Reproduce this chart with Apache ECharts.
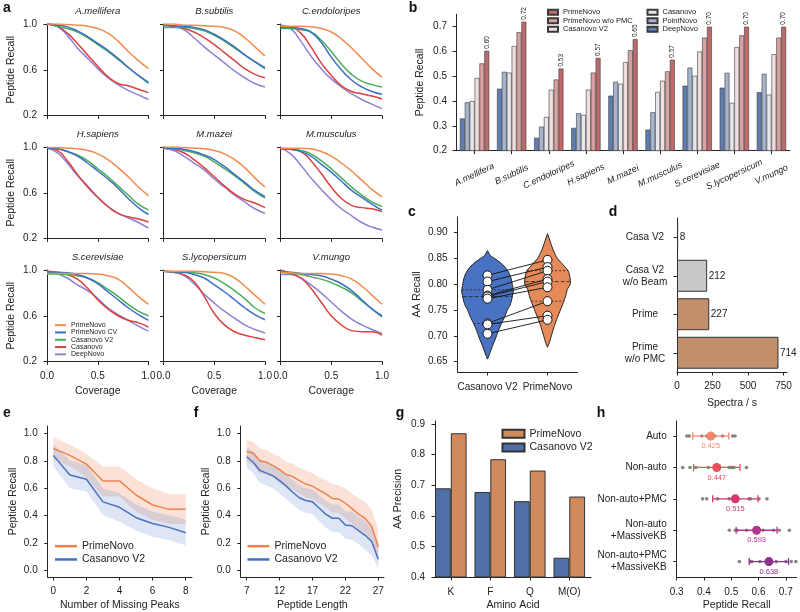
<!DOCTYPE html>
<html><head><meta charset="utf-8">
<script src="https://cdn.jsdelivr.net/npm/echarts@6/dist/echarts.min.js"></script>
<style>html,body{margin:0;padding:0;background:#fff}#c{width:800px;height:612px}</style>
</head><body><div id="c"></div>
<script>
// ================= DATA =================
// Panel a
const coverage = [0, 0.1, 0.2, 0.3, 0.4, 0.5, 0.6, 0.7, 0.8, 0.9, 1.0];
const species = ['A.mellifera','B.subtilis','C.endoloripes','H.sapiens','M.mazei','M.musculus','S.cerevisiae','S.lycopersicum','V.mungo'];
const methodsA = ['PrimeNovo','PrimeNovo CV','Casanovo V2','Casanovo','DeepNovo'];
const covPrimeNovo = [
  [1.0,1.0,0.995,0.99,0.98,0.96,0.92,0.85,0.76,0.68,0.61],
  [1.0,1.0,0.99,0.99,0.985,0.98,0.97,0.94,0.88,0.80,0.72],
  [0.98,0.98,0.98,0.975,0.96,0.93,0.87,0.79,0.70,0.61,0.535],
  [0.995,0.995,0.99,0.985,0.97,0.94,0.89,0.82,0.74,0.65,0.575],
  [1.0,1.0,0.995,0.99,0.985,0.97,0.94,0.89,0.82,0.73,0.65],
  [0.99,0.99,0.99,0.985,0.96,0.92,0.86,0.79,0.71,0.63,0.565],
  [0.97,0.97,0.97,0.97,0.97,0.965,0.95,0.92,0.85,0.77,0.70],
  [0.99,0.99,0.99,0.99,0.985,0.98,0.97,0.93,0.86,0.78,0.70],
  [0.98,0.975,0.97,0.97,0.97,0.965,0.95,0.92,0.86,0.78,0.70]];
const covPrimeNovoCV = [
  [1.0,0.99,0.975,0.94,0.89,0.83,0.77,0.70,0.62,0.55,0.49],
  [0.99,0.985,0.98,0.97,0.95,0.91,0.86,0.80,0.73,0.67,0.61],
  [0.97,0.97,0.96,0.93,0.84,0.71,0.60,0.51,0.45,0.41,0.385],
  [0.99,0.985,0.96,0.92,0.86,0.79,0.72,0.64,0.55,0.47,0.41],
  [0.99,0.99,0.98,0.96,0.93,0.89,0.83,0.76,0.69,0.62,0.565],
  [0.985,0.98,0.96,0.92,0.85,0.78,0.70,0.62,0.56,0.50,0.445],
  [0.98,0.98,0.975,0.96,0.93,0.88,0.81,0.74,0.67,0.61,0.56],
  [0.99,0.985,0.98,0.96,0.93,0.87,0.81,0.74,0.67,0.61,0.565],
  [0.99,0.98,0.97,0.96,0.95,0.92,0.88,0.82,0.74,0.66,0.60]];
const covCasanovoV2 = [
  [1.0,0.98,0.96,0.93,0.88,0.82,0.76,0.69,0.62,0.55,0.48],
  [0.97,0.97,0.97,0.96,0.94,0.90,0.85,0.79,0.73,0.67,0.62],
  [0.96,0.96,0.95,0.93,0.86,0.76,0.65,0.56,0.50,0.47,0.45],
  [0.99,0.985,0.96,0.93,0.88,0.81,0.74,0.66,0.58,0.50,0.45],
  [0.99,0.985,0.97,0.95,0.92,0.87,0.81,0.75,0.68,0.61,0.555],
  [0.985,0.98,0.97,0.94,0.88,0.81,0.73,0.65,0.58,0.52,0.48],
  [0.965,0.965,0.96,0.95,0.93,0.89,0.83,0.77,0.70,0.64,0.60],
  [0.99,0.985,0.98,0.975,0.96,0.93,0.88,0.82,0.75,0.67,0.62],
  [0.98,0.97,0.96,0.94,0.92,0.89,0.85,0.80,0.73,0.66,0.59]];
const covCasanovo = [
  [1.0,0.98,0.92,0.83,0.73,0.63,0.54,0.48,0.46,0.43,0.40],
  [0.99,0.98,0.96,0.93,0.88,0.82,0.75,0.68,0.61,0.56,0.53],
  [0.98,0.97,0.92,0.80,0.66,0.55,0.46,0.41,0.39,0.37,0.345],
  [0.99,0.97,0.88,0.76,0.65,0.56,0.48,0.42,0.39,0.37,0.345],
  [0.99,0.98,0.95,0.89,0.82,0.74,0.66,0.59,0.54,0.51,0.47],
  [0.99,0.98,0.96,0.88,0.77,0.65,0.55,0.49,0.47,0.46,0.435],
  [0.99,0.98,0.96,0.92,0.84,0.74,0.66,0.60,0.56,0.54,0.50],
  [0.99,0.98,0.96,0.90,0.77,0.62,0.52,0.46,0.43,0.41,0.39],
  [1.0,0.97,0.93,0.84,0.72,0.60,0.52,0.47,0.46,0.46,0.43]];
const covDeepNovo = [
  [1.0,0.98,0.90,0.79,0.70,0.61,0.53,0.47,0.42,0.38,0.34],
  [0.99,0.98,0.95,0.88,0.80,0.73,0.66,0.59,0.53,0.48,0.45],
  [0.99,0.96,0.85,0.72,0.61,0.52,0.45,0.39,0.34,0.30,0.26],
  [0.99,0.95,0.86,0.75,0.66,0.56,0.48,0.42,0.38,0.34,0.29],
  [0.99,0.97,0.92,0.86,0.80,0.72,0.65,0.58,0.52,0.46,0.42],
  [0.99,0.94,0.84,0.73,0.63,0.54,0.46,0.40,0.34,0.30,0.275],
  [0.99,0.97,0.93,0.87,0.82,0.75,0.67,0.61,0.56,0.51,0.465],
  [0.99,0.98,0.95,0.88,0.79,0.71,0.64,0.58,0.52,0.48,0.45],
  [0.96,0.96,0.93,0.87,0.80,0.72,0.64,0.57,0.52,0.48,0.445]];

// Panel b
const methodsB = ['DeepNovo','PointNovo','Casanovo','Casanovo V2','PrimeNovo w/o PMC','PrimeNovo'];
const bDeepNovo    = [0.330,0.450,0.252,0.292,0.422,0.285,0.462,0.454,0.436];
const bPointNovo   = [0.395,0.518,0.297,0.351,0.478,0.355,0.535,0.514,0.510];
const bCasanovo    = [0.400,0.515,0.336,0.345,0.470,0.437,0.502,0.393,0.426];
const bCasanovoV2  = [0.493,0.622,0.446,0.446,0.557,0.482,0.600,0.618,0.589];
const bPrimeNoPMC  = [0.552,0.678,0.487,0.515,0.605,0.520,0.656,0.665,0.656];
const bPrimeNovo   = [0.603,0.720,0.531,0.574,0.650,0.567,0.700,0.700,0.700];
const bTicks = [0.2,0.3,0.4,0.5,0.6,0.7];

// Panel c
const cCategories = ['Casanovo V2','PrimeNovo'];
const cCasanovoV2 = [0.817,0.805,0.789,0.778,0.776,0.772,0.724,0.722,0.704];
const cPrimeNovo  = [0.847,0.833,0.826,0.810,0.805,0.794,0.767,0.739,0.731];
const cViolinCasY = [0.865,0.855,0.85,0.84,0.83,0.82,0.81,0.80,0.787,0.775,0.76,0.75,0.735,0.724,0.71,0.70,0.68,0.665,0.655];
const cViolinCasW = [0,0.12,0.27,0.54,0.73,0.85,0.92,0.96,1,0.96,0.88,0.77,0.65,0.54,0.42,0.35,0.19,0.08,0];
const cViolinPrimeY = [0.898,0.88,0.865,0.85,0.835,0.825,0.81,0.80,0.79,0.775,0.765,0.75,0.735,0.72,0.70,0.685,0.678];
const cViolinPrimeW = [0,0.12,0.23,0.38,0.65,0.81,0.88,0.88,0.77,0.69,0.62,0.50,0.38,0.27,0.15,0.06,0];
const cTicks = [0.65,0.70,0.75,0.80,0.85,0.90];

// Panel d
const dCategories = ['Casa V2','Casa V2\nw/o Beam','Prime','Prime\nw/o PMC'];
const dSpeed = [8,212,227,714];
const dTicks = [0,250,500,750];

// Panel e
const eMissing = [0,1,2,3,4,5,6,7,8];
const ePrime   = [0.89,0.84,0.776,0.653,0.653,0.55,0.477,0.445,0.445];
const ePrimeHi = [0.97,0.92,0.85,0.758,0.758,0.665,0.60,0.555,0.555];
const ePrimeLo = [0.81,0.76,0.68,0.54,0.54,0.428,0.367,0.338,0.338];
const eCas     = [0.84,0.697,0.665,0.50,0.46,0.384,0.342,0.313,0.274];
const eCasHi   = [0.92,0.80,0.77,0.60,0.563,0.48,0.43,0.40,0.37];
const eCasLo   = [0.758,0.60,0.575,0.404,0.355,0.289,0.245,0.22,0.18];
const eTicks = [0,2,4,6,8];
const recallTicks = [0,0.2,0.4,0.6,0.8,1.0];

// Panel f
const fLength  = [7,8,9,10,11,12,13,14,15,16,17,18,19,20,21,22,23,24,25,26,27];
const fPrime   = [0.87,0.855,0.80,0.79,0.765,0.735,0.70,0.685,0.655,0.63,0.615,0.585,0.56,0.525,0.52,0.49,0.45,0.41,0.38,0.32,0.17];
const fPrimeHi = [0.95,0.94,0.89,0.88,0.85,0.83,0.79,0.78,0.75,0.73,0.71,0.68,0.66,0.63,0.62,0.60,0.56,0.53,0.50,0.44,0.30];
const fPrimeLo = [0.79,0.77,0.71,0.70,0.68,0.64,0.61,0.59,0.56,0.53,0.52,0.49,0.46,0.42,0.42,0.38,0.34,0.30,0.27,0.21,0.06];
const fCas     = [0.83,0.79,0.73,0.71,0.69,0.655,0.615,0.57,0.53,0.51,0.50,0.455,0.41,0.38,0.38,0.33,0.325,0.29,0.255,0.21,0.08];
const fCasHi   = [0.90,0.87,0.81,0.79,0.77,0.74,0.70,0.66,0.62,0.60,0.59,0.55,0.51,0.48,0.48,0.43,0.43,0.39,0.36,0.31,0.16];
const fCasLo   = [0.75,0.71,0.64,0.62,0.60,0.56,0.52,0.48,0.44,0.42,0.41,0.36,0.31,0.28,0.28,0.23,0.22,0.19,0.15,0.11,0.01];
const fTicks = [7,12,17,22,27];

// Panel g
const gCategories = ['K','F','Q','M(O)'];
const gPrimeNovo  = [0.870,0.785,0.748,0.663];
const gCasanovoV2 = [0.690,0.678,0.648,0.463];
const gTicks = [0.4,0.5,0.6,0.7,0.8,0.9];

// Panel h
const hLabels = ['Auto','Non-auto','Non-auto+PMC','Non-auto\n+MassiveKB','Non-auto+PMC\n+MassiveKB'];
const hMeans = [0.425,0.447,0.515,0.593,0.638];
const hStd   = [0.066,0.085,0.083,0.075,0.072];
const hAuto          = [0.337,0.346,0.392,0.410,0.428,0.440,0.468,0.505,0.514];
const hNonAuto       = [0.322,0.349,0.370,0.416,0.492,0.499,0.505,0.510,0.556];
const hNonAutoPMC    = [0.395,0.410,0.450,0.492,0.520,0.565,0.570,0.602,0.631];
const hNonAutoKB     = [0.493,0.515,0.522,0.556,0.590,0.617,0.655,0.676,0.713];
const hNonAutoPMCKB  = [0.530,0.570,0.575,0.605,0.640,0.665,0.700,0.720,0.737];
const hTicks = [0.3,0.4,0.5,0.6,0.7];

// ================= STYLE =================
const FONT = 'Liberation Sans';
const AX = '#262626', TXT = '#222';
const colA = ['#f28b4c','#3d6fc6','#47ad58','#d9423f','#9180d4'];
const colB = ['#5f7db0','#a7b4cf','#e8e8ec','#f3dede','#d9a1a1','#bf6a6a'];
const colE = ['#ec8450','#4a70c0'];
const bandE = ['rgba(240,140,95,0.26)','rgba(90,130,210,0.20)'];
const colG = ['#d08a5e','#4f6fa6'];
const colH = ['#f3876a','#e9505a','#d23a6a','#b2378a','#8f2f8f'];

function M(a,b){const o=Object.assign({},a);for(const k in b){if(b[k]&&typeof b[k]==='object'&&!Array.isArray(b[k])&&o[k]&&typeof o[k]==='object'&&!Array.isArray(o[k]))o[k]=Object.assign({},o[k],b[k]);else o[k]=b[k];}return o;}
const baseAx = {
  axisLine:{show:true,onZero:false,lineStyle:{color:AX,width:1}},
  axisTick:{show:true,length:3.5,inside:false,lineStyle:{color:AX,width:1}},
  axisLabel:{color:TXT,fontSize:10,fontFamily:FONT,margin:10},
  splitLine:{show:false},
  nameLocation:'middle',
  nameTextStyle:{color:TXT,fontSize:10.5,fontFamily:FONT}
};
const axis = o => M(baseAx,o);
const lf = n => n.split('|')[1];

const grids=[], xAxes=[], yAxes=[], series=[], graphics=[], legends=[];

// ---------- Panel a ----------
const aLeft=[47,163.5,280.5], aTop=[24,147,270], aW=101.5, aH=91.5;
const aCurves=[covPrimeNovo,covPrimeNovoCV,covCasanovoV2,covCasanovo,covDeepNovo];
species.forEach((sp,i)=>{
  const r=Math.floor(i/3), c=i%3;
  grids.push({left:aLeft[c],top:aTop[r],width:aW,height:aH,outerBoundsMode:'none'});
  xAxes.push(axis({type:'value',gridIndex:i,min:0,max:1,
    axisLabel:{show:r===2,customValues:[0,0.5,1],formatter:v=>v.toFixed(1)},
    axisTick:{customValues:[0,0.5,1]},
    name:r===2?'Coverage':'',nameGap:24.5}));
  yAxes.push(axis({type:'value',gridIndex:i,min:0.2,max:1,
    axisLabel:{show:c===0,customValues:[0.2,0.6,1.0],formatter:v=>v.toFixed(1)},
    axisTick:{customValues:[0.2,0.6,1.0]},
    name:c===0?'Peptide Recall':'',nameGap:30}));
  graphics.push({type:'text',x:aLeft[c]+aW/2,y:aTop[r]-12.5,
    style:{text:sp,fill:TXT,font:'italic 9.5px '+FONT,align:'center',textAlign:'center',verticalAlign:'middle',textVerticalAlign:'middle'}});
  for(let m=methodsA.length-1;m>=0;m--){
    series.push({type:'line',name:'a|'+methodsA[m],xAxisIndex:i,yAxisIndex:i,
      data:coverage.map((x,k)=>[x,aCurves[m][i][k]]),smooth:0.5,
      symbol:'none',lineStyle:{width:1.5,color:colA[m]},itemStyle:{color:colA[m]},z:3+(5-m)});
  }
});
legends.push({data:methodsA.map(m=>'a|'+m),formatter:lf,orient:'vertical',left:55,top:321.5,padding:0,
  itemGap:0,itemWidth:11,itemHeight:2,icon:'rect',textStyle:{fontSize:7,lineHeight:7.3,color:TXT,fontFamily:FONT}});

// ---------- Panel b (index 9) ----------
grids.push({left:456,top:14.3,width:334,height:136.4,outerBoundsMode:'none'});
xAxes.push(axis({type:'category',gridIndex:9,data:species,
  axisTick:{alignWithLabel:true},
  axisLabel:{interval:0,rotate:25,fontStyle:'italic',fontSize:9,align:'center',verticalAlign:'middle',margin:24}}));
yAxes.push(axis({type:'value',gridIndex:9,min:0.2,max:0.75,
  axisLabel:{customValues:bTicks,formatter:v=>v.toFixed(1),margin:9},axisTick:{customValues:bTicks},
  name:'Peptide Recall',nameGap:30}));
const bData=[bDeepNovo,bPointNovo,bCasanovo,bCasanovoV2,bPrimeNoPMC,bPrimeNovo];
methodsB.forEach((m,k)=>{
  const s={type:'bar',name:'b|'+m,xAxisIndex:9,yAxisIndex:9,data:bData[k],barGap:'0%',barCategoryGap:'21%',
    itemStyle:{color:colB[k],borderColor:'#3a3a3a',borderWidth:0.6}};
  if(m==='PrimeNovo'){
    s.label={show:true,position:'top',rotate:90,align:'left',verticalAlign:'middle',distance:2,
      fontSize:6.5,color:TXT,fontFamily:FONT,formatter:p=>p.value.toFixed(2)};
  }
  series.push(s);
});
const bLegTxt={fontSize:7.5,lineHeight:8.5,color:TXT,fontFamily:FONT};
legends.push({data:['b|PrimeNovo','b|PrimeNovo w/o PMC','b|Casanovo V2'],formatter:lf,orient:'vertical',left:547,top:8,padding:0,itemGap:0,itemWidth:10,itemHeight:5,icon:'rect',textStyle:bLegTxt});
legends.push({data:['b|Casanovo','b|PointNovo','b|DeepNovo'],formatter:lf,orient:'vertical',left:646.5,top:8,padding:0,itemGap:0,itemWidth:10,itemHeight:5,icon:'rect',textStyle:bLegTxt});

// ---------- Panel c (index 10) ----------
grids.push({left:457.5,top:217,width:120,height:155,outerBoundsMode:'none'});
xAxes.push(axis({type:'category',gridIndex:10,data:cCategories,axisTick:{alignWithLabel:true},axisLabel:{interval:0,margin:10,hideOverlap:false}}));
yAxes.push(axis({type:'value',gridIndex:10,min:0.63,max:0.93,
  axisLabel:{customValues:cTicks,formatter:v=>v.toFixed(2)},axisTick:{customValues:cTicks},
  name:'AA Recall',nameGap:35}));
function quantile(arr,q){const s=arr.slice().sort((a,b)=>a-b);const pos=(s.length-1)*q;const lo=Math.floor(pos);return lo+1<s.length?s[lo]+(s[lo+1]-s[lo])*(pos-lo):s[lo];}
function widthAt(ys,ws,v){for(let k=0;k<ys.length-1;k++){if(v<=ys[k]&&v>=ys[k+1]){const t=(ys[k]-v)/(ys[k]-ys[k+1]);return ws[k]+(ws[k+1]-ws[k])*t;}}return 0;}
const violinHalf=0.43;
const violins=[{ys:cViolinCasY,ws:cViolinCasW,pts:cCasanovoV2,col:'#4a72c2'},{ys:cViolinPrimeY,ws:cViolinPrimeW,pts:cPrimeNovo,col:'#e58a58'}];
violins.forEach((v,ci)=>{
  series.push({type:'custom',xAxisIndex:10,yAxisIndex:10,z:1,data:[[ci,v.ys[0]]],
    renderItem:(params,api)=>{
      const half=api.size([1,0])[0]*violinHalf;
      const L=[],R=[];
      v.ys.forEach((y,k)=>{const p=api.coord([ci,y]);L.push([p[0]-v.ws[k]*half,p[1]]);R.push([p[0]+v.ws[k]*half,p[1]]);});
      const pts=L.concat(R.reverse());
      const children=[{type:'polygon',shape:{points:pts,smooth:0.2},style:{fill:v.col,stroke:'#222',lineWidth:1}}];
      [0.25,0.5,0.75].forEach(q=>{
        const val=quantile(v.pts,q);const w=widthAt(v.ys,v.ws,val)*half;const p=api.coord([ci,val]);
        children.push({type:'line',shape:{x1:p[0]-w,y1:p[1],x2:p[0]+w,y2:p[1]},style:{stroke:'#222',lineWidth:0.8,lineDash:q===0.5?[4,2]:[2,2]}});
      });
      return {type:'group',children};
    }});
});
series.push({type:'custom',xAxisIndex:10,yAxisIndex:10,z:4,data:cCasanovoV2.map((a,i)=>[a,cPrimeNovo[i]]),
  renderItem:(params,api)=>{const p1=api.coord([0,api.value(0)]),p2=api.coord([1,api.value(1)]);
    return {type:'line',shape:{x1:p1[0],y1:p1[1],x2:p2[0],y2:p2[1]},style:{stroke:'#111',lineWidth:0.9}};}});
[cCasanovoV2,cPrimeNovo].forEach((arr,ci)=>{
  series.push({type:'scatter',xAxisIndex:10,yAxisIndex:10,z:6,symbolSize:9,data:arr.map(v=>[ci,v]),
    itemStyle:{color:'#fff',borderColor:'#111',borderWidth:1,opacity:1}});
});

// ---------- Panel d (index 11) ----------
grids.push({left:677,top:218,width:110,height:154,outerBoundsMode:'none'});
xAxes.push(axis({type:'value',gridIndex:11,min:0,max:774,
  axisLabel:{customValues:dTicks,margin:9},axisTick:{customValues:dTicks},name:'Spectra / s',nameGap:25.5}));
yAxes.push(axis({type:'category',gridIndex:11,data:dCategories,inverse:true,axisTick:{alignWithLabel:true},
  axisLabel:{interval:0,align:'center',margin:32,lineHeight:12}}));
const dColors=['#c8c8c8','#c8c8c8','#c28e6c','#c28e6c'];
series.push({type:'bar',xAxisIndex:11,yAxisIndex:11,barCategoryGap:'17%',
  data:dSpeed.map((v,i)=>({value:v,itemStyle:{color:dColors[i]}})),
  itemStyle:{borderColor:'#333',borderWidth:1},
  label:{show:true,position:'right',distance:1.5,fontSize:10,color:TXT,fontFamily:FONT}});

// ---------- Panels e, f (index 12, 13) ----------
function bandPanel(idx,left,width,xmin,xmax,xs,ticks,xname,lines,his,los,names,legLeft){
  grids.push({left:left,top:426,width:width,height:151,outerBoundsMode:'none'});
  xAxes.push(axis({type:'value',gridIndex:idx,min:xmin,max:xmax,
    axisLabel:{customValues:ticks,margin:9.5},axisTick:{customValues:ticks},name:xname,nameGap:23}));
  yAxes.push(axis({type:'value',gridIndex:idx,min:-0.05,max:1.055,
    axisLabel:{customValues:recallTicks,formatter:v=>v.toFixed(1)},axisTick:{customValues:recallTicks},
    name:'Peptide Recall',nameGap:29.5}));
  [0,1].forEach(k=>{
    series.push({type:'custom',xAxisIndex:idx,yAxisIndex:idx,z:1,data:[[xs[0],his[k][0]]],
      renderItem:(params,api)=>{
        const up=xs.map((x,j)=>api.coord([x,his[k][j]]));
        const dn=xs.map((x,j)=>api.coord([x,los[k][j]])).reverse();
        return {type:'polygon',shape:{points:up.concat(dn)},style:{fill:bandE[k]}};
      }});
  });
  [0,1].forEach(k=>{
    series.push({type:'line',name:names[k],xAxisIndex:idx,yAxisIndex:idx,z:3,symbol:'none',
      data:xs.map((x,j)=>[x,lines[k][j]]),lineStyle:{width:1.5,color:colE[k]},itemStyle:{color:colE[k]}});
  });
  legends.push({data:names,formatter:lf,orient:'vertical',left:legLeft,top:539.5,padding:0,itemGap:0,
    itemWidth:22,itemHeight:2.5,icon:'rect',textStyle:{fontSize:10.5,lineHeight:13.3,color:TXT,fontFamily:FONT}});
}
bandPanel(12,47.7,144.3,-0.34,8.38,eMissing,eTicks,'Number of Missing Peaks',[ePrime,eCas],[ePrimeHi,eCasHi],[ePrimeLo,eCasLo],['e|PrimeNovo','e|Casanovo V2'],55);
bandPanel(13,240.7,143.3,6.09,27.87,fLength,fTicks,'Peptide Length',[fPrime,fCas],[fPrimeHi,fCasHi],[fPrimeLo,fCasLo],['f|PrimeNovo','f|Casanovo V2'],247.5);

// ---------- Panel g (index 14) ----------
const gIdx=[0,1,2,3];
grids.push({left:435,top:421,width:156,height:156,outerBoundsMode:'none'});
xAxes.push(axis({type:'value',gridIndex:14,min:-0.4,max:3.55,
  axisLabel:{customValues:gIdx,formatter:v=>gCategories[Math.round(v)]},axisTick:{customValues:gIdx},name:'Amino Acid',nameGap:23}));
yAxes.push(axis({type:'value',gridIndex:14,min:0.4,max:0.91,
  axisLabel:{customValues:gTicks,formatter:v=>v.toFixed(1)},axisTick:{customValues:gTicks},name:'AA Precision',nameGap:31}));
series.push({type:'bar',name:'g|Casanovo V2',xAxisIndex:14,yAxisIndex:14,barWidth:15.8,barGap:'0%',
  data:gCasanovoV2.map((v,i)=>[i,v]),itemStyle:{color:colG[1],borderColor:'#333',borderWidth:1}});
series.push({type:'bar',name:'g|PrimeNovo',xAxisIndex:14,yAxisIndex:14,barWidth:15.8,barGap:'0%',
  data:gPrimeNovo.map((v,i)=>[i,v]),itemStyle:{color:colG[0],borderColor:'#333',borderWidth:1}});
legends.push({data:['g|PrimeNovo','g|Casanovo V2'],formatter:lf,orient:'vertical',left:501.5,top:427,padding:0,itemGap:0,
  itemWidth:22,itemHeight:8,icon:'rect',textStyle:{fontSize:10.5,lineHeight:13.7,color:TXT,fontFamily:FONT}});

// ---------- Panel h (index 15) ----------
const hIdx=[0,1,2,3,4];
grids.push({left:676.7,top:421,width:120,height:156,outerBoundsMode:'none'});
xAxes.push(axis({type:'value',gridIndex:15,min:0.3,max:0.74,
  axisLabel:{customValues:hTicks,formatter:v=>v.toFixed(1)},axisTick:{customValues:hTicks},name:'Peptide Recall',nameGap:23}));
yAxes.push(axis({type:'value',gridIndex:15,min:-0.48,max:4.49,inverse:true,
  axisLabel:{customValues:hIdx,formatter:v=>hLabels[Math.round(v)],lineHeight:12},axisTick:{customValues:hIdx}}));
const hPoints=[hAuto,hNonAuto,hNonAutoPMC,hNonAutoKB,hNonAutoPMCKB];
hPoints.forEach((arr,i)=>{
  series.push({type:'scatter',xAxisIndex:15,yAxisIndex:15,z:2,symbolSize:3.6,data:arr.map(v=>[v,i]),
    itemStyle:{color:'#7a7a7a',opacity:0.9}});
});
series.push({type:'custom',xAxisIndex:15,yAxisIndex:15,z:4,
  data:hMeans.map((m,i)=>[m-hStd[i],m+hStd[i],i]),
  renderItem:(params,api)=>{
    const i=api.value(2);const p1=api.coord([api.value(0),i]),p2=api.coord([api.value(1),i]);
    const st={stroke:colH[i],lineWidth:1.3};const cap=3.5;
    return {type:'group',children:[
      {type:'line',shape:{x1:p1[0],y1:p1[1],x2:p2[0],y2:p2[1]},style:st},
      {type:'line',shape:{x1:p1[0],y1:p1[1]-cap,x2:p1[0],y2:p1[1]+cap},style:st},
      {type:'line',shape:{x1:p2[0],y1:p2[1]-cap,x2:p2[0],y2:p2[1]+cap},style:st}]};
  }});
series.push({type:'scatter',xAxisIndex:15,yAxisIndex:15,z:6,symbolSize:9,
  data:hMeans.map((m,i)=>({value:[m,i],itemStyle:{color:colH[i],opacity:1},label:{color:colH[i]}})),
  label:{show:true,position:'bottom',distance:1.5,fontSize:7.5,fontFamily:FONT,formatter:p=>p.value[0].toFixed(3)}});

// ---------- panel letters ----------
[['a',7,8],['b',413,8],['c',412,212],['d',613,212],['e',7,413],['f',196,413],['g',400,413],['h',601,413]].forEach(t=>{
  graphics.push({type:'text',x:t[1],y:t[2],style:{text:t[0],fill:'#111',font:'bold 14px '+FONT,align:'center',textAlign:'center',verticalAlign:'middle',textVerticalAlign:'middle'}});
});

const chart=echarts.init(document.getElementById('c'),null,{renderer:'canvas',width:800,height:612});
chart.setOption({
  backgroundColor:'#fff',animation:false,
  textStyle:{fontFamily:FONT},
  grid:grids,xAxis:xAxes,yAxis:yAxes,series:series,legend:legends,graphic:graphics
});
</script></body></html>
